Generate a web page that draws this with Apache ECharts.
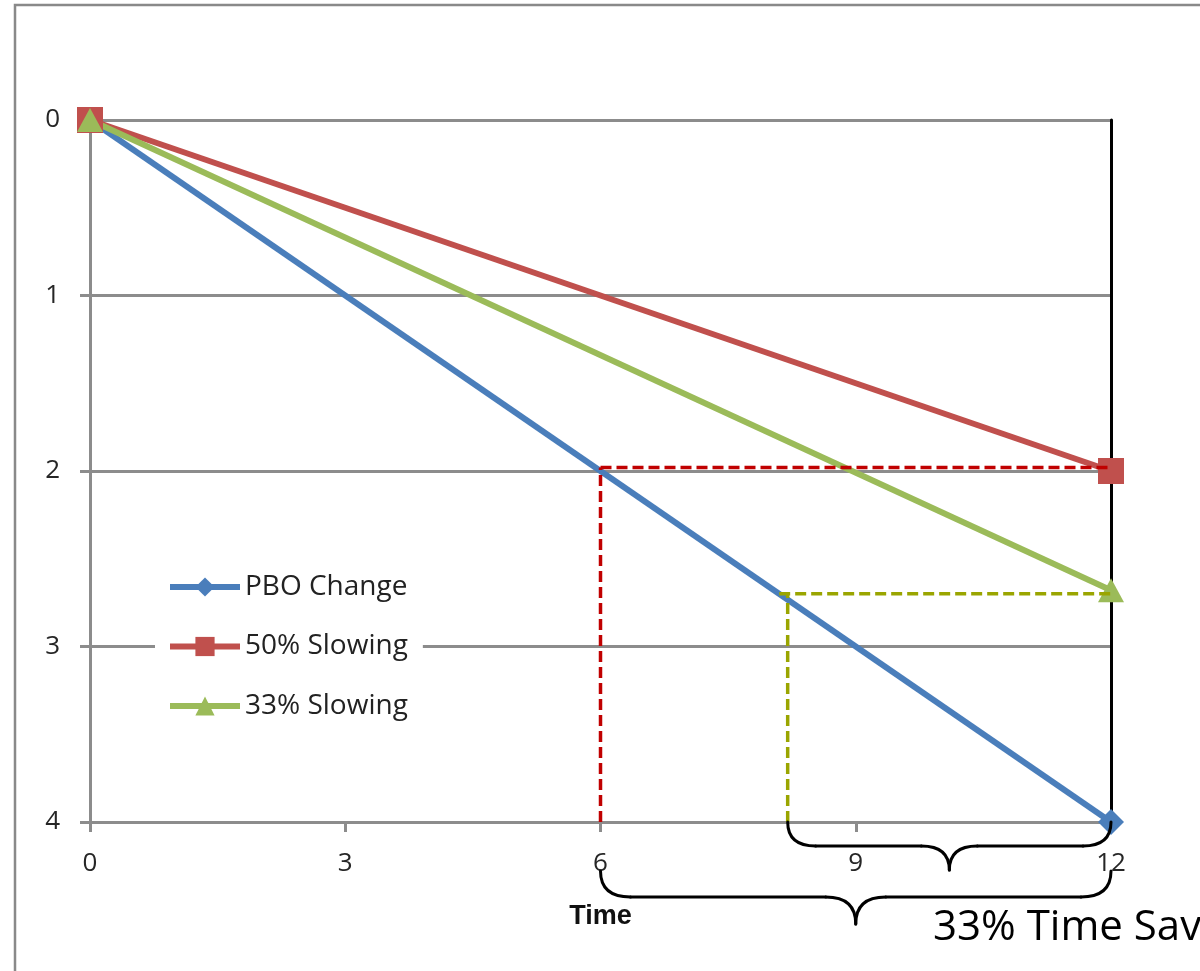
<!DOCTYPE html>
<html>
<head>
<meta charset="utf-8">
<script src="https://cdn.jsdelivr.net/npm/echarts@6/dist/echarts.min.js"></script>
<style>
  html, body { margin: 0; padding: 0; background: #fff; }
  #chart { width: 1200px; height: 971px; }
</style>
</head>
<body>
<div id="chart"></div>
<script>
// Time axis ticks and PBO scale
const xTicks = [0, 3, 6, 9, 12];
const yTicks = [0, 1, 2, 3, 4];

// Series: [time, PBO] endpoints
const pboChange = [[0, 0], [12, 4]];
const slowing50 = [[0, 0], [12, 2]];
const slowing33 = [[0, 0], [12, 2.68]];

// Guide lines (dashed) showing where the slowed paths meet the base path
const guide50Vertical = [[6, 4], [6, 1.98]];
const guide50Horizontal = [[6, 1.98], [12, 1.98]];
const guide33Vertical = [[8.2, 4], [8.2, 2.7]];
const guide33Horizontal = [[8.1, 2.7], [12, 2.7]];

// Brace spans along the time axis
const braceSpans = [[8.2, 12], [6, 12]];
const savingsLabel = '33% Time Savings';

const FONT = '"Open Sans", "Noto Sans", sans-serif';
const GRID_GREY = '#8c8c8c';

const chart = echarts.init(document.getElementById('chart'), null, { renderer: 'canvas' });

function guideSeries(data, color) {
  return {
    type: 'line',
    data: data,
    symbol: 'none',
    silent: true,
    z: 5,
    lineStyle: { color: color, width: 3.5, type: [11, 5] }
  };
}

const option = {
  backgroundColor: '#fff',
  animation: false,
  grid: { left: 90, right: 89, top: 120, bottom: 149, containLabel: false },
  legend: {
    data: ['PBO Change', '50% Slowing', '33% Slowing'],
    orient: 'vertical',
    left: 155,
    top: 567,
    backgroundColor: '#fff',
    padding: [5, 15, 5, 12],
    itemWidth: 70,
    itemHeight: 24,
    itemGap: 29.5,
    selectedMode: false,
    lineStyle: { width: 6 },
    textStyle: { fontFamily: FONT, fontSize: 28, color: '#222', lineHeight: 30 }
  },
  xAxis: {
    type: 'value',
    min: xTicks[0],
    max: xTicks[xTicks.length - 1],
    interval: 3,
    name: 'Time',
    nameLocation: 'middle',
    nameGap: 81,
    nameTextStyle: { fontFamily: '"Liberation Sans", Arial, sans-serif', fontWeight: 'bold', fontSize: 27, color: '#111' },
    axisLine: { show: true, onZero: false, lineStyle: { color: GRID_GREY, width: 3 } },
    axisTick: { show: true, length: 10, lineStyle: { color: GRID_GREY, width: 3 } },
    axisLabel: { fontFamily: FONT, fontSize: 26, color: '#262626', margin: 29 },
    splitLine: { show: false }
  },
  yAxis: [{
    type: 'value',
    inverse: true,
    min: yTicks[0],
    max: yTicks[yTicks.length - 1],
    interval: 1,
    axisLine: { show: true, lineStyle: { color: GRID_GREY, width: 3 } },
    axisTick: { show: true, length: 10, lineStyle: { color: GRID_GREY, width: 3 } },
    axisLabel: { fontFamily: FONT, fontSize: 26, color: '#262626', margin: 30 },
    splitLine: { show: true, lineStyle: { color: GRID_GREY, width: 3 } }
  }, {
    type: 'value',
    inverse: true,
    position: 'right',
    min: yTicks[0],
    max: yTicks[yTicks.length - 1],
    interval: 1,
    axisLine: { show: true, lineStyle: { color: '#000', width: 3 } },
    axisTick: { show: false },
    axisLabel: { show: false },
    splitLine: { show: false }
  }],
  series: [
    {
      name: 'PBO Change',
      type: 'line',
      data: pboChange,
      symbol: 'diamond',
      symbolSize: 26,
      z: 3,
      itemStyle: { color: '#4a7ebb' },
      lineStyle: { color: '#4a7ebb', width: 6 }
    },
    {
      name: '50% Slowing',
      type: 'line',
      data: slowing50,
      symbol: 'rect',
      symbolSize: 26,
      z: 3,
      itemStyle: { color: '#c0504d' },
      lineStyle: { color: '#c0504d', width: 6 }
    },
    {
      name: '33% Slowing',
      type: 'line',
      data: slowing33,
      symbol: 'triangle',
      symbolSize: [26, 24],
      z: 3,
      itemStyle: { color: '#9bbb59' },
      lineStyle: { color: '#9bbb59', width: 6 }
    },
    guideSeries(guide50Vertical, '#c00000'),
    guideSeries(guide50Horizontal, '#c00000'),
    guideSeries(guide33Vertical, '#9aa500'),
    guideSeries(guide33Horizontal, '#9aa500')
  ]
};

chart.setOption(option);

const BRACE_STYLE = { fill: null, stroke: '#000', lineWidth: 3, lineCap: 'round' };

// Curly brace built from quadratic curves and straight runs, opening toward yTop
function braceElements(x0, x1, yTop, drop, tip, r) {
  const mid = (x0 + x1) / 2;
  const ys = yTop + drop;
  const yt = yTop + tip;
  const curve = function (ax, ay, cx, cy, bx, by) {
    return {
      type: 'bezierCurve', silent: true, z: 10,
      shape: { x1: ax, y1: ay, cpx1: cx, cpy1: cy, x2: bx, y2: by },
      style: BRACE_STYLE
    };
  };
  const line = function (ax, bx, y) {
    return {
      type: 'line', silent: true, z: 10,
      shape: { x1: ax, y1: y, x2: bx, y2: y },
      style: BRACE_STYLE
    };
  };
  return [
    curve(x0, yTop, x0, ys, x0 + r, ys),
    line(x0 + r, mid - r, ys),
    curve(mid - r, ys, mid, ys, mid, yt),
    curve(x1, yTop, x1, ys, x1 - r, ys),
    line(x1 - r, mid + r, ys),
    curve(mid + r, ys, mid, ys, mid, yt)
  ];
}

const baseY = chart.convertToPixel({ gridIndex: 0 }, [0, 4])[1];
const braceLayouts = [
  { top: baseY, drop: 24, tip: 48, r: 28 },
  { top: baseY + 49, drop: 26, tip: 53, r: 30 }
];

let graphics = [{
  type: 'rect',
  silent: true,
  z: 0,
  shape: { x: 15, y: 5, width: 1400, height: 1200 },
  style: { fill: null, stroke: '#898989', lineWidth: 2.5 }
}];

braceSpans.forEach(function (span, i) {
  const p0 = chart.convertToPixel({ gridIndex: 0 }, [span[0], 4]);
  const p1 = chart.convertToPixel({ gridIndex: 0 }, [span[1], 4]);
  const lay = braceLayouts[i];
  graphics = graphics.concat(braceElements(p0[0], p1[0], lay.top, lay.drop, lay.tip, lay.r));
});

graphics.push({
  type: 'text',
  silent: true,
  z: 10,
  x: 933,
  y: 928,
  style: {
    text: savingsLabel,
    font: '42px ' + FONT,
    fill: '#000',
    verticalAlign: 'middle',
    align: 'left'
  }
});

chart.setOption({ graphic: graphics });
</script>
</body>
</html>
